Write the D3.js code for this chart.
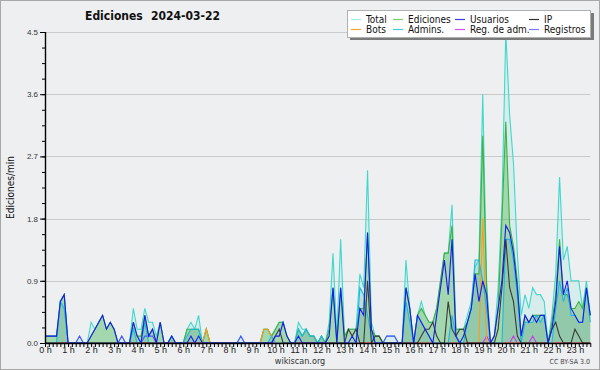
<!DOCTYPE html>
<html>
<head>
<meta charset="utf-8">
<script src="https://cdn.jsdelivr.net/npm/d3@7"></script>
<style>
  body { margin: 0; background: #fff; }
  svg { display: block; font-family: "DejaVu Sans Condensed", "DejaVu Sans", sans-serif; font-stretch: condensed; }
</style>
</head>
<body>
<div id="chart"></div>
<script>
// edits per minute, one value every 10 minutes (row = one hour, 00:00 -> 23:40)
let total = [
  0.1,0.1,0.1,0.1,0.6,0.7,  0,0,0,0.1,0,0,  0.3,0.2,0.3,0.4,0.2,0.3,  0.2,0,0.1,0,0,0.5,
  0.2,0.2,0.5,0.3,0.3,0.1,  0.3,0,0,0.1,0,0,  0,0.2,0.3,0.2,0.4,0,  0.2,0,0,0,0,0,
  0,0,0,0.1,0,0,  0,0,0,0.2,0.2,0.1,  0.2,0.3,0.3,0.1,0,0,  0.3,0.2,0.2,0.1,0.1,0,
  0.1,0,0.3,1.3,0.1,1.5,  0.1,0.2,0.2,0.2,1.0,0.8,  2.5,0.3,0.1,0.1,0,0.1,  0.1,0.1,0,0,1.2,0.5,
  0,0.4,0.6,0.4,0.3,0.3,  0.5,0.9,1.3,1.3,2.0,0.2,  0.2,0.2,0.4,0.6,1.1,1.2,  3.6,0.9,0,0.1,0.8,2.0,
  4.5,3.3,2.6,1.3,0.4,0.7,  0.5,0.8,0.7,0.7,0.6,0,  0.4,1.0,2.4,1.2,1.4,0.9,  0.9,0.9,0.5,0.9,0.4
];
let ediciones = [
  0.1,0.1,0.1,0.1,0.6,0.7,  0,0,0,0,0,0,  0.1,0.2,0.3,0.4,0.2,0.3,  0.2,0,0,0,0,0.3,
  0.1,0.1,0.4,0.1,0.2,0,  0.3,0,0,0.1,0,0,  0,0.2,0.2,0.2,0.2,0,  0.2,0,0,0,0,0,
  0,0,0,0,0,0,  0,0,0,0.2,0.2,0.1,  0.2,0.3,0.3,0.1,0,0,  0.2,0.1,0.2,0.1,0.1,0,
  0.1,0,0.2,0.8,0,0.8,  0.1,0.2,0.2,0.2,0.5,0.5,  1.6,0.2,0.1,0.1,0,0,  0,0,0,0,0.8,0.5,
  0,0.4,0.5,0.4,0.3,0.3,  0.5,0.9,1.3,1.3,1.7,0.2,  0.2,0.2,0.3,0.5,1.0,1.0,  3.0,0.8,0,0.1,0.5,1.8,
  3.2,1.7,1.4,0.9,0.1,0.4,  0.3,0.4,0.4,0.4,0.4,0,  0.3,0.7,1.5,0.7,0.7,0.5,  0.5,0.6,0.5,0.8,0.4
];
let usuarios = [
  0.1,0.1,0.1,0.1,0.6,0.7,  0,0,0,0,0,0,  0.1,0.2,0.3,0.4,0.2,0.3,  0.2,0,0,0,0,0.3,
  0.1,0,0.4,0.1,0.2,0,  0.3,0,0,0.1,0,0,  0,0,0.1,0,0.1,0,  0,0,0,0,0,0,
  0,0,0,0,0,0,  0,0,0,0,0,0,  0.1,0.1,0.3,0.1,0,0,  0.1,0,0,0,0,0,
  0,0,0.1,0.8,0,0.8,  0,0,0.1,0,0.5,0.4,  1.6,0.2,0,0,0,0,  0,0,0,0,0.8,0.5,
  0,0.4,0.3,0.2,0.1,0,  0.4,0.8,1.2,0.7,1.5,0.1,  0,0.1,0.3,0.5,1.0,0.6,  0.9,0.7,0,0.1,0.5,0.9,
  1.7,1.6,1.3,0.8,0.1,0.4,  0.3,0.4,0.3,0.4,0.4,0,  0.2,0.6,1.4,0.7,0.9,0.5,  0.4,0.3,0.3,0.8,0.4
];
let ip = [
  0,0,0,0,0,0,  0,0,0,0,0,0,  0,0,0,0,0,0,  0,0,0,0,0,0,
  0,0,0,0,0,0,  0,0,0,0,0,0,  0,0,0,0,0,0,  0,0,0,0,0,0,
  0,0,0,0,0,0,  0,0,0,0,0,0,  0.1,0.2,0,0,0,0,  0,0,0,0,0,0,
  0,0,0,0,0,0,  0,0.2,0.1,0.2,0,0,  0.9,0,0.1,0.1,0,0,  0,0,0,0,0,0,
  0,0,0.1,0.2,0.2,0.3,  0.1,0,0,0.6,0.2,0.1,  0.2,0.2,0,0,0,0,  0,0,0,0,0.2,0.8,
  1.5,0.8,0.6,0.1,0,0,  0,0,0,0,0,0,  0.2,0.3,0.1,0,0,0,  0.2,0.1,0,0,0
];
let bots = [
  0,0,0,0,0,0,  0,0,0,0,0,0,  0,0,0,0,0,0,  0,0,0,0,0,0,
  0,0,0,0,0,0,  0,0,0,0,0,0,  0,0,0,0,0,0,  0.2,0,0,0,0,0,
  0,0,0,0,0,0,  0,0,0,0.2,0.2,0.1,  0,0,0,0,0,0,  0,0,0,0,0,0,
  0,0,0,0,0,0,  0,0,0,0,0,0,  0,0,0,0,0,0,  0,0,0,0,0,0,
  0,0,0,0,0,0,  0,0,0,0,0,0,  0,0,0,0,0,0,  1.8,0,0,0,0,0,
  0,0,0,0,0,0,  0,0,0,0,0,0,  0,0,0,0,0,0,  0,0,0,0,0
];
let admins = [
  0,0,0,0,0.6,0.5,  0,0,0,0,0,0,  0,0,0,0,0,0,  0,0,0,0,0,0.2,
  0,0,0.3,0,0,0,  0,0,0,0.1,0,0,  0,0.1,0.2,0.2,0.2,0,  0,0,0,0,0,0,
  0,0,0,0,0,0,  0,0,0,0,0,0.1,  0,0,0,0,0,0,  0.2,0.1,0.2,0.1,0.1,0,
  0.1,0,0,0,0,0,  0,0,0,0,0.8,0.7,  0.4,0.1,0,0,0,0,  0,0,0,0,0.6,0.3,
  0,0.4,0.3,0.2,0.1,0,  0,0,0,0,0.4,0.1,  0,0,0.3,0.5,1.2,1.2,  0.9,0.5,0,0,0,0,
  1.5,1.5,1.2,0.7,0,0.3,  0.3,0.3,0.4,0.3,0.4,0,  0,0.5,0.9,0.6,0.8,0.4,  0.4,0.3,0.3,0.8,0.3
];
let regAdm = [
  0,0,0,0,0,0,  0,0,0,0,0,0,  0,0,0,0,0,0,  0,0,0,0,0,0,
  0,0,0,0,0,0,  0,0,0,0,0,0,  0,0,0,0,0,0,  0,0,0,0,0,0,
  0,0,0,0,0,0,  0,0,0,0,0,0,  0,0,0,0,0,0,  0,0,0,0,0,0,
  0,0,0,0,0,0,  0,0,0,0,0,0,  0,0,0,0,0,0,  0,0,0,0,0,0,
  0,0,0,0,0,0,  0,0,0,0,0,0,  0,0,0,0,0,0,  0,0.1,0,0,0,0,
  0,0,0.1,0,0,0,  0,0.1,0,0,0,0,  0,0,0,0,0,0,  0,0,0,0,0
];
let registros = [
  0,0,0,0,0,0,  0,0,0,0.1,0,0,  0,0,0,0,0,0,  0,0,0.1,0,0,0,
  0,0,0.1,0.1,0.1,0,  0,0,0,0,0,0,  0,0,0,0,0,0,  0,0,0,0,0,0,
  0,0,0,0.1,0,0,  0,0,0,0,0,0,  0,0,0,0,0,0,  0,0,0,0,0,0,
  0,0,0,0,0,0,  0,0,0,0,0,0,  0,0,0,0,0,0.1,  0.1,0.1,0,0,0,0,
  0,0,0,0,0,0,  0,0,0,0,0,0,  0,0,0,0,0,0,  0,0,0,0,0,0,
  0,0,0,0,0,0,  0,0,0,0,0,0,  0,0,0,0,0,0,  0,0,0,0,0
];

let hourLabels = d3.range(0, 24).map(h => h + " h");
let yTicks = [0, 0.9, 1.8, 2.7, 3.6, 4.5];

let legendItems = [
  { name: "Total", color: "#a6ecea" },
  { name: "Ediciones", color: "#7bcf7b" },
  { name: "Usuarios", color: "#3b3bf0" },
  { name: "IP", color: "#333333" },
  { name: "Bots", color: "#ffa330" },
  { name: "Admins.", color: "#3ccde0" },
  { name: "Reg. de adm.", color: "#d64fe8" },
  { name: "Registros", color: "#7878ff" }
];

let width = 600, height = 370;
let margin = { left: 45, right: 10, top: 32, bottom: 27 };

let svg = d3.select("#chart")
    .append("svg")
    .attr("width", width)
    .attr("height", height);

svg.append("rect")
    .attr("x", 0.5).attr("y", 0.5)
    .attr("width", width - 1).attr("height", height - 1)
    .attr("fill", "#eeeff1")
    .attr("stroke", "#a8a8a8");

// 10 minute steps, 23.04 px per hour
let x = d3.scaleLinear()
    .domain([0, 24])
    .range([margin.left, margin.left + 24 * 23.04]);

let y = d3.scaleLinear()
    .domain([0, 4.5])
    .range([height - margin.bottom, margin.top]);

let tx = i => x(i / 6);
let lastX = x((total.length - 1) / 6);

// grid
svg.append("g")
    .selectAll("line")
    .data(yTicks.slice(1))
    .join("line")
    .attr("x1", x(0)).attr("x2", lastX)
    .attr("y1", d => Math.round(y(d)) + 0.5).attr("y2", d => Math.round(y(d)) + 0.5)
    .attr("stroke", "#cacaca");

// areas
let area = d3.area()
    .x((d, i) => tx(i))
    .y0(y(0))
    .y1(d => y(d));

svg.append("path").datum(total).attr("d", area).attr("fill", "rgba(64,224,208,0.13)");
svg.append("path").datum(ediciones).attr("d", area).attr("fill", "rgba(80,180,70,0.38)");
svg.append("path").datum(admins).attr("d", area).attr("fill", "rgba(40,110,160,0.13)");

// lines
let line = d3.line()
    .x((d, i) => tx(i))
    .y(d => y(d));

let series = [
  { data: total, color: "#40d8cc" },
  { data: ediciones, color: "#3fb03f" },
  { data: registros, color: "#5050ff" },
  { data: regAdm, color: "#cc33ee" },
  { data: bots, color: "#ff9a1a" },
  { data: admins, color: "#1cb8e0" },
  { data: ip, color: "#3a3a3a" },
  { data: usuarios, color: "#1a1aee" }
];

svg.append("g")
    .selectAll("path")
    .data(series)
    .join("path")
    .attr("d", d => line(d.data))
    .attr("fill", "none")
    .attr("stroke", d => d.color)
    .attr("stroke-width", 1.1);

// y axis
let yAxis = svg.append("g")
    .attr("transform", `translate(${margin.left},0)`)
    .call(d3.axisLeft(y).tickValues(yTicks).tickSize(5).tickPadding(2).tickFormat(d3.format(".1f")));
yAxis.select(".domain").remove();
yAxis.selectAll("text").attr("font-size", 8).attr("fill", "#333").attr("font-family", null);

svg.append("g")
    .attr("transform", `translate(${margin.left},0)`)
    .call(d3.axisLeft(y).tickValues(d3.range(0, 21).map(k => k * 0.225)).tickSize(3).tickFormat(""))
    .select(".domain").remove();

svg.append("line")
    .attr("x1", margin.left + 0.5).attr("x2", margin.left + 0.5)
    .attr("y1", y(4.5)).attr("y2", y(0))
    .attr("stroke", "#000").attr("stroke-width", 1.4);

// x axis
let xTicks = svg.append("g")
    .attr("transform", `translate(0,${y(0)})`)
    .call(d3.axisBottom(x).tickValues(d3.range(0, total.length).map(i => i / 6)).tickSize(4).tickFormat(""));
xTicks.select(".domain").remove();

let xLabels = svg.append("g")
    .attr("transform", `translate(0,${y(0)})`)
    .call(d3.axisBottom(x).tickValues(d3.range(0, 24)).tickSize(0).tickPadding(4).tickFormat(h => hourLabels[h]));
xLabels.select(".domain").remove();
xLabels.selectAll("text").attr("font-size", 9).attr("fill", "#222").attr("font-family", null);

svg.append("line")
    .attr("x1", x(0)).attr("x2", lastX)
    .attr("y1", y(0) + 0.5).attr("y2", y(0) + 0.5)
    .attr("stroke", "#000").attr("stroke-width", 1.4);

// title
let title = svg.append("text")
    .attr("y", 20)
    .attr("font-size", 12)
    .attr("font-weight", "bold")
    .attr("fill", "#111");
title.append("tspan").attr("x", 85).text("Ediciones");
title.append("tspan").attr("x", 151).text("2024-03-22");

// y label
svg.append("text")
    .attr("transform", `translate(14,${(y(0) + y(4.5)) / 2}) rotate(-90)`)
    .attr("text-anchor", "middle")
    .attr("font-size", 10)
    .attr("fill", "#111")
    .text("Ediciones/min");

// footer
svg.append("text")
    .attr("x", 300).attr("y", 364)
    .attr("text-anchor", "middle")
    .attr("font-size", 9)
    .attr("fill", "#333")
    .text("wikiscan.org");

svg.append("text")
    .attr("x", 590).attr("y", 364)
    .attr("text-anchor", "end")
    .attr("font-size", 7)
    .attr("fill", "#444")
    .text("CC BY-SA 3.0");

// legend
let legend = svg.append("g");
legend.append("rect")
    .attr("x", 350).attr("y", 13).attr("width", 244).attr("height", 27)
    .attr("fill", "#7a7a7a");
legend.append("rect")
    .attr("x", 347.5).attr("y", 10.5).attr("width", 243).attr("height", 27)
    .attr("fill", "#fff").attr("stroke", "#b0b0b0");

let colX = [351, 393, 455, 529];
let item = legend.selectAll("g.item")
    .data(legendItems)
    .join("g")
    .attr("class", "item")
    .attr("transform", (d, i) => `translate(${colX[i % 4]},${i < 4 ? 19.5 : 29.5})`);

item.append("line")
    .attr("x1", 0).attr("x2", 10)
    .attr("stroke", d => d.color).attr("stroke-width", 1.2);

item.append("text")
    .attr("x", 15).attr("y", 3.5)
    .attr("font-size", 10)
    .attr("fill", "#111")
    .text(d => d.name);
</script>
</body>
</html>
